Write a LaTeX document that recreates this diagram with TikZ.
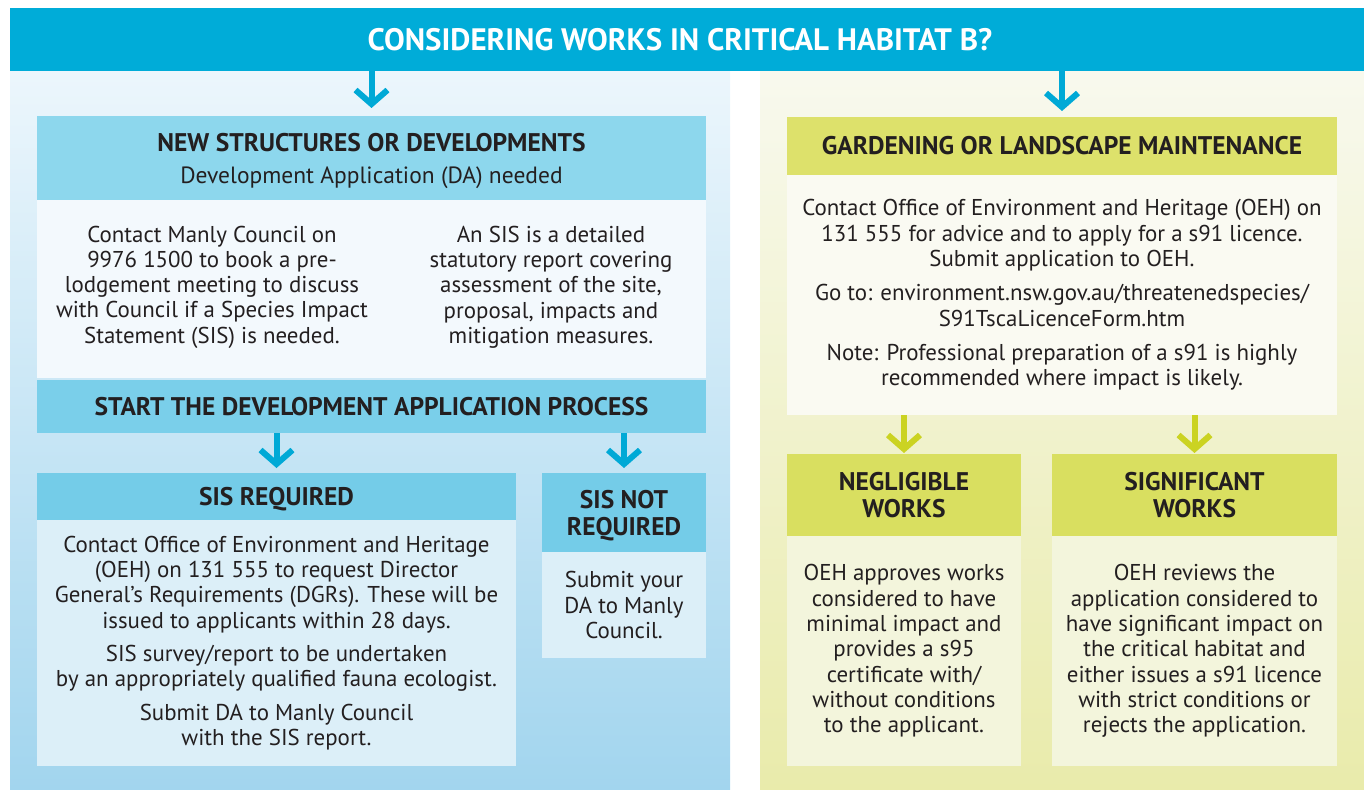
\documentclass[tikz,border=0pt]{standalone}
\usepackage{fontspec}
\setmainfont{PT Sans}
\usetikzlibrary{arrows.meta}
\definecolor{ink}{HTML}{231F20}
\definecolor{banner}{HTML}{00ACD8}
\definecolor{arrblue}{HTML}{00A9D6}
\definecolor{arrgreen}{HTML}{CBD322}
\definecolor{lbgtop}{HTML}{ECF6FC}
\definecolor{lbgbot}{HTML}{A2D5EE}
\definecolor{rbgtop}{HTML}{F8F9EE}
\definecolor{rbgbot}{HTML}{E9EBAB}
\definecolor{bh1}{HTML}{8DD7ED}
\definecolor{bb1}{HTML}{F3F9FD}
\definecolor{bbar}{HTML}{7ACFEA}
\definecolor{bh2}{HTML}{74CCE8}
\definecolor{bb2}{HTML}{DCEFF8}
\definecolor{gh1}{HTML}{DDE16B}
\definecolor{gb1}{HTML}{FAFAF2}
\definecolor{gh2}{HTML}{D9DF60}
\definecolor{gb2}{HTML}{F3F5DC}
\newcommand\bodyfont{\fontsize{22.9}{25.3}\selectfont}
\tikzset{
  box/.style={anchor=north west, rectangle, inner sep=0pt, outer sep=0pt, text=ink, align=center},
  hdr/.style={box, font=\bfseries\fontsize{25.5}{27}\selectfont},
  bodybox/.style={box, font=\bodyfont},
  txt/.style={inner sep=0pt, text=ink, align=center, font=\bodyfont},
  arrB/.style={draw=arrblue, line width=6pt, -{Straight Barb[length=14pt,width=32pt,line width=6pt]}},
  arrG/.style={draw=arrgreen, line width=6pt, -{Straight Barb[length=14pt,width=32pt,line width=6pt]}}
}
\begin{document}
\begin{tikzpicture}[x=1pt,y=-1pt]
\useasboundingbox (0,0) rectangle (1364,789);
% panels
\shade[top color=lbgtop, bottom color=lbgbot] (10,71) rectangle (730,789);
\shade[top color=rbgtop, bottom color=rbgbot] (760,71) rectangle (1364,789);
% title
\node[box, fill=banner, minimum width=1354, minimum height=63, text=white,
  font=\bfseries\fontsize{31}{36}\selectfont] (title) at (10,8)
  {CONSIDERING WORKS IN CRITICAL HABITAT B?\hspace{14pt}};
% left column
\node[hdr, fill=bh1, minimum width=669, minimum height=84, text depth=-3pt] (newh) at (37,116)
  {NEW STRUCTURES OR DEVELOPMENTS\\[5pt]{\mdseries\fontsize{23.5}{25}\selectfont Development Application (DA) needed}};
\node[box, fill=bb1, minimum width=669, minimum height=178] (newb) at (37,200) {};
\node[txt] (newt1) at (212,287) {Contact Manly Council on\\9976 1500 to book a pre-\\lodgement meeting to discuss\\with Council if a Species Impact\\Statement (SIS) is needed.};
\node[txt] (newt2) at (551,287) {An SIS is a detailed\\statutory report covering\\assessment of the site,\\proposal, impacts and\\mitigation measures.};
\node[hdr, fill=bbar, minimum width=669, minimum height=53] (start) at (37,380)
  {START THE DEVELOPMENT APPLICATION PROCESS};
\node[hdr, fill=bh2, minimum width=479, minimum height=47, text depth=-6pt] (sish) at (37,473) {SIS REQUIRED};
\node[bodybox, fill=bb2, minimum width=479, minimum height=246] (sisb) at (37,520)
  {Contact Office of Environment and Heritage\\(OEH) on 131 555 to request Director\\General’s Requirements (DGRs). These will be\\issued to applicants within 28 days.\\[8pt]SIS survey/report to be undertaken\\by an appropriately qualified fauna ecologist.\\[8pt]Submit DA to Manly Council\\with the SIS report.};
\node[hdr, fill=bh2, minimum width=164, minimum height=79, text depth=-2pt] (nsh) at (542,473) {SIS NOT\\REQUIRED};
\node[bodybox, fill=bb2, minimum width=164, minimum height=106] (nsb) at (542,552)
  {Submit your\\DA to Manly\\Council.};
% right column
\node[hdr, fill=gh1, minimum width=550, minimum height=58] (gh) at (787,117) {GARDENING OR LANDSCAPE MAINTENANCE};
\node[bodybox, fill=gb1, minimum width=550, minimum height=240] (gb) at (787,175)
  {Contact Office of Environment and Heritage (OEH) on\\131 555 for advice and to apply for a s91 licence.\\Submit application to OEH.\\[9pt]Go to: environment.nsw.gov.au/threatenedspecies/\\S91TscaLicenceForm.htm\\[9pt]Note: Professional preparation of a s91 is highly\\recommended where impact is likely.};
\node[hdr, fill=gh2, minimum width=234, minimum height=82, text depth=-3pt] (negh) at (787,454) {NEGLIGIBLE\\WORKS};
\node[bodybox, fill=gb2, minimum width=234, minimum height=230] (negb) at (787,536)
  {OEH approves works\\considered to have\\minimal impact and\\provides a s95\\certificate with/\\without conditions\\to the applicant.};
\node[hdr, fill=gh2, minimum width=285, minimum height=82, text depth=-3pt] (sigh) at (1052,454) {SIGNIFICANT\\WORKS};
\node[bodybox, fill=gb2, minimum width=285, minimum height=230] (sigb) at (1052,536)
  {OEH reviews the\\application considered to\\have significant impact on\\the critical habitat and\\either issues a s91 licence\\with strict conditions or\\rejects the application.};
% arrows
\draw[arrB, shorten >=8pt] (title.south -| newh.north) -- (newh.north);
\draw[arrB, shorten >=5pt] (start.south -| sish.north) -- (sish.north);
\draw[arrB, shorten >=5pt] (start.south -| nsh.north) -- (nsh.north);
\draw[arrB, shorten >=6pt] (title.south -| gh.north) -- (gh.north);
\draw[arrG, shorten >=1pt] (gb.south -| negh.north) -- (negh.north);
\draw[arrG, shorten >=1pt] (gb.south -| sigh.north) -- (sigh.north);
\end{tikzpicture}
\end{document}
